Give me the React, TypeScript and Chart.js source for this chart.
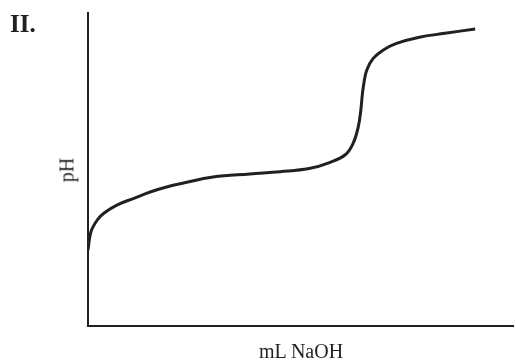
import React, { useEffect, useRef } from "react";
import { Chart, registerables } from "chart.js";

Chart.register(...registerables);

const panelLabel = "II.";
const xTitle = "mL NaOH";
const yTitle = "pH";

// volume of NaOH (relative units) and pH (relative units)
const volume = [0, 0.7, 2.2, 3.8, 6.9, 10.8, 14.8, 18.7, 22.2, 29.4, 38.1, 45.2, 52.0, 57.0, 60.6, 62.4, 63.6, 64.2, 64.5, 64.9, 65.6, 67.1, 69.5, 72.6, 77.7, 84, 91.1];
const pH = [24.3, 30.1, 33.9, 36.1, 38.7, 40.8, 42.9, 44.5, 45.6, 47.6, 48.6, 49.3, 50.3, 52.3, 54.8, 58.4, 63.7, 69, 73.3, 77.5, 81.8, 85.5, 88.2, 90.3, 92.2, 93.5, 94.9];

const ink = "#231f20";
const serif = "'Liberation Serif', 'DejaVu Serif', serif";

export default function App() {
  const ref = useRef<HTMLCanvasElement | null>(null);

  useEffect(() => {
    if (!ref.current) return;
    const chart = new Chart(ref.current, {
      type: "line",
      data: {
        datasets: [
          {
            data: volume.map((v, i) => ({ x: v, y: pH[i] })),
            borderColor: ink,
            borderWidth: 3,
            pointRadius: 0,
            fill: false,
            tension: 0.4,
          },
        ],
      },
      options: {
        animation: false,
        responsive: false,
        maintainAspectRatio: false,
        layout: { padding: { left: 88, top: 13, right: 3, bottom: 34 } },
        plugins: { legend: { display: false }, tooltip: { enabled: false } },
        scales: {
          x: {
            type: "linear",
            min: 0,
            max: 100,
            ticks: { display: false },
            grid: { display: false, drawTicks: false },
            border: { display: true, color: ink, width: 2 },
          },
          y: {
            type: "linear",
            min: 0,
            max: 100,
            ticks: { display: false },
            grid: { display: false, drawTicks: false },
            border: { display: true, color: ink, width: 2 },
          },
        },
      },
    });
    return () => chart.destroy();
  }, []);

  return (
    <div style={{ position: "fixed", left: 0, top: 0, width: 516, height: 360, background: "#fff" }}>
      <canvas ref={ref} width={516} height={360} style={{ position: "absolute", left: 0, top: 0 }} />
      <div style={{ position: "absolute", left: 10, top: 9, fontFamily: serif, fontSize: 25, fontWeight: "bold", color: ink, lineHeight: "30px" }}>
        {panelLabel}
      </div>
      <div
        style={{
          position: "absolute",
          left: 67,
          top: 170,
          transform: "translate(-50%, -50%) rotate(-90deg)",
          fontFamily: serif,
          fontSize: 20,
          color: ink,
          whiteSpace: "nowrap",
        }}
      >
        {yTitle}
      </div>
      <div
        style={{
          position: "absolute",
          left: 301,
          top: 351,
          transform: "translate(-50%, -50%)",
          fontFamily: serif,
          fontSize: 20,
          color: ink,
          whiteSpace: "nowrap",
        }}
      >
        {xTitle}
      </div>
    </div>
  );
}
